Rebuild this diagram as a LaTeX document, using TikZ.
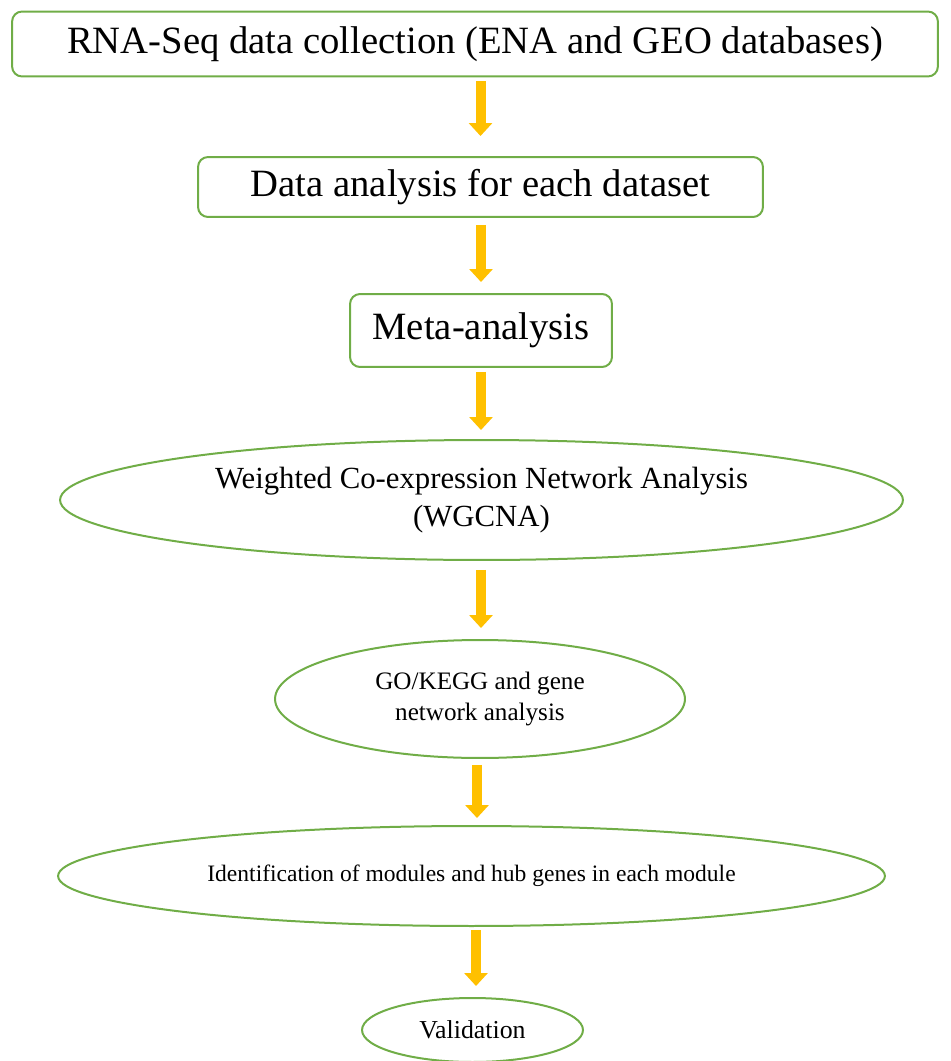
\documentclass[tikz,border=0pt]{standalone}
\usepackage{fontspec}
\setmainfont{Liberation Serif}
\usetikzlibrary{arrows.meta,shapes.geometric}
\definecolor{boxgreen}{HTML}{70AD47}
\definecolor{arrowgold}{HTML}{FFC000}

\begin{document}
\begin{tikzpicture}[x=0.02cm,y=-0.02cm,
    stage/.style={draw=boxgreen, line width=0.04cm, rounded corners=0.2cm,
      inner sep=0pt, outer sep=0pt, align=center},
    oval/.style={draw=boxgreen, line width=0.04cm, ellipse,
      inner sep=0pt, outer sep=0pt, align=center},
    flow/.style={draw=arrowgold, line width=0.2cm,
      -{Triangle[width=0.46cm,length=0.26cm]}}]
  \useasboundingbox (0,0) rectangle (950,1061);

  \node[stage, minimum width=18.52cm, minimum height=1.3cm,
    font=\fontsize{22}{26}\selectfont] (collect) at (475,44)
    {RNA-Seq data collection (ENA and GEO databases)};
  \node[stage, minimum width=11.3cm, minimum height=1.2cm,
    font=\fontsize{22}{26}\selectfont] (perdata) at (480.5,187)
    {Data analysis for each dataset};
  \node[stage, minimum width=5.24cm, minimum height=1.46cm,
    font=\fontsize{22}{26}\selectfont] (meta) at (481,330.5)
    {Meta-analysis};
  \node[oval, minimum width=16.86cm, minimum height=2.4cm,
    font=\fontsize{17.5}{22}\selectfont] (wgcna) at (481.5,500)
    {Weighted Co-expression Network Analysis\\(WGCNA)};
  \node[oval, minimum width=8.2cm, minimum height=2.36cm,
    font=\fontsize{14.3}{17.6}\selectfont] (gonet) at (480,699)
    {GO/KEGG and gene\\network analysis};
  \node[oval, minimum width=16.54cm, minimum height=2.0cm,
    font=\fontsize{13.4}{16}\selectfont] (modules) at (471.5,876)
    {Identification of modules and hub genes in each module};
  \node[oval, minimum width=4.42cm, minimum height=1.28cm,
    font=\fontsize{14.7}{17}\selectfont] (valid) at (472.5,1030)
    {Validation};

  \draw[flow, shorten <=0.1cm,  shorten >=0.42cm] (collect.south -| perdata) -- (perdata.north);
  \draw[flow, shorten <=0.16cm, shorten >=0.24cm] (perdata.south -| meta) -- (meta.north);
  \draw[flow, shorten <=0.1cm,  shorten >=0.2cm]  (meta.south) -- (meta.south |- wgcna.north);
  \draw[flow, shorten <=0.2cm,  shorten >=0.24cm] (wgcna.south -| meta) -- (meta.south |- gonet.north);
  \draw[flow, shorten <=0.14cm, shorten >=0.16cm] ([xshift=-0.06cm]gonet.south) -- ([xshift=-0.06cm]gonet.south |- modules.north);
  \draw[flow, shorten <=0.08cm, shorten >=0.24cm] ([xshift=0.09cm]modules.south) -- ([xshift=0.09cm]modules.south |- valid.north);
\end{tikzpicture}
\end{document}
